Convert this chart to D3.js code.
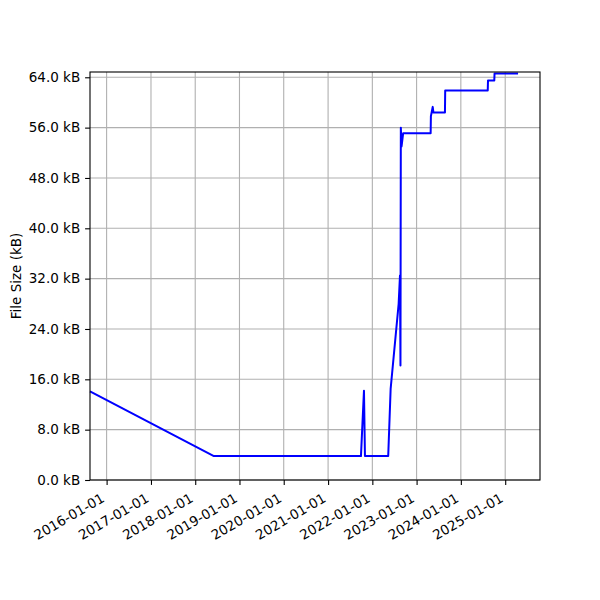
<!DOCTYPE html>
<html>
<head>
<meta charset="utf-8">
<script src="https://cdn.jsdelivr.net/npm/d3@7"></script>
<style>
  body { margin: 0; background: #fff; }
  svg, svg text { font-family: "DejaVu Sans", sans-serif; }
</style>
</head>
<body>
<div id="chart"></div>
<script>
// commit dates and file sizes (kB)
const dates = [
  "2015-08-17", "2018-06-04", "2021-09-29", "2021-10-24", "2021-11-01",
  "2022-05-12", "2022-06-01", "2022-08-06", "2022-08-17", "2022-08-21",
  "2022-08-24", "2022-08-30", "2022-09-12", "2023-04-27", "2023-04-29",
  "2023-05-14", "2023-05-20", "2023-08-23", "2023-08-25", "2024-08-10",
  "2024-08-12", "2024-10-03", "2024-10-05", "2025-04-17"
];
const sizes = [
  14.1, 3.8, 3.8, 14.2, 3.8,
  3.8, 14.5, 28.0, 32.5, 18.2,
  56.0, 53.0, 55.1, 55.1, 57.8,
  59.3, 58.4, 58.4, 61.9, 61.9,
  63.5, 63.5, 64.6, 64.6
];
const xTickLabels = ["2016-01-01", "2017-01-01", "2018-01-01", "2019-01-01", "2020-01-01",
  "2021-01-01", "2022-01-01", "2023-01-01", "2024-01-01", "2025-01-01"];
const yTicks = [0, 8, 16, 24, 32, 40, 48, 56, 64];

const parse = d3.utcParse("%Y-%m-%d");
const data = dates.map((d, i) => ({ date: parse(d), size: sizes[i] }));

const W = 600, H = 600;
const m = { left: 90, right: 60, top: 72, bottom: 120 };
const fs = 13.5;
const font = "DejaVu Sans";

const svg = d3.select("#chart").append("svg")
  .attr("width", W).attr("height", H);

const x = d3.scaleUtc()
  .domain([parse("2015-08-17"), parse("2025-10-15")])
  .range([m.left, W - m.right]);
const y = d3.scaleLinear()
  .domain([0, 64.84])
  .range([H - m.bottom, m.top]);

const xTicks = xTickLabels.map(parse);

// grid
const grid = svg.append("g").attr("stroke", "#b0b0b0").attr("stroke-width", 1.1);
grid.selectAll(".gx").data(xTicks).join("line")
  .attr("x1", d => x(d)).attr("x2", d => x(d))
  .attr("y1", m.top).attr("y2", H - m.bottom);
grid.selectAll(".gy").data(yTicks).join("line")
  .attr("y1", d => y(d)).attr("y2", d => y(d))
  .attr("x1", m.left).attr("x2", W - m.right);

// line
svg.append("path")
  .datum(data)
  .attr("fill", "none")
  .attr("stroke", "#0000ff")
  .attr("stroke-width", 2)
  .attr("stroke-linejoin", "round")
  .attr("d", d3.line().x(d => x(d.date)).y(d => y(d.size)));

// axes
const xAxis = svg.append("g")
  .attr("transform", `translate(0,${H - m.bottom})`)
  .call(d3.axisBottom(x).tickValues(xTicks).tickSize(4.9).tickPadding(4.9)
    .tickFormat(d3.utcFormat("%Y-%m-%d")))
  .attr("font-family", font).attr("font-size", fs);
xAxis.selectAll("text")
  .attr("fill", "#000")
  .attr("text-anchor", "end")
  .attr("dy", null)
  .attr("y", 0)
  .attr("transform", "translate(-1.6,21) rotate(-30)");

const yAxis = svg.append("g")
  .attr("transform", `translate(${m.left},0)`)
  .call(d3.axisLeft(y).tickValues(yTicks).tickSize(4.9).tickPadding(4.9)
    .tickFormat(d => d3.format(".1f")(d) + " kB"))
  .attr("font-family", font).attr("font-size", fs);
yAxis.selectAll("text").attr("fill", "#000");

svg.selectAll(".domain").remove();
svg.selectAll(".tick line").attr("stroke", "#000").attr("stroke-width", 1.1);

// frame
svg.append("rect")
  .attr("x", m.left).attr("y", m.top)
  .attr("width", W - m.left - m.right).attr("height", H - m.top - m.bottom)
  .attr("fill", "none").attr("stroke", "#000").attr("stroke-width", 1.1);

svg.append("text")
  .attr("transform", `translate(21,${(m.top + H - m.bottom) / 2}) rotate(-90)`)
  .attr("text-anchor", "middle")
  .attr("font-family", font)
  .attr("font-size", fs)
  .text("File Size (kB)");
</script>
</body>
</html>
